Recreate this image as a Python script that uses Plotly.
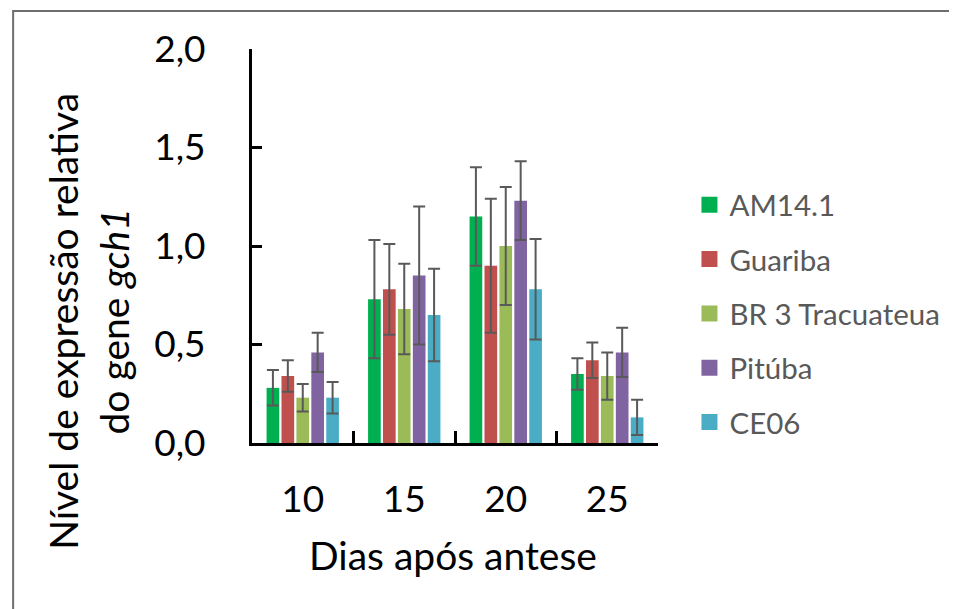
import plotly.graph_objects as go

days = ["10", "15", "20", "25"]
series_names = ["AM14.1", "Guariba", "BR 3 Tracuateua", "Pitúba", "CE06"]
colors = ["#00B050", "#C0504D", "#9BBB59", "#8064A2", "#4BACC6"]

am14 = [0.28, 0.73, 1.15, 0.35]
guariba = [0.34, 0.78, 0.90, 0.42]
br3 = [0.23, 0.68, 1.00, 0.34]
pituba = [0.46, 0.85, 1.23, 0.46]
ce06 = [0.23, 0.65, 0.78, 0.13]

am14_err = [0.09, 0.30, 0.25, 0.08]
guariba_err = [0.08, 0.23, 0.34, 0.09]
br3_err = [0.07, 0.23, 0.30, 0.12]
pituba_err = [0.10, 0.35, 0.20, 0.125]
ce06_err = [0.08, 0.235, 0.255, 0.09]

values = [am14, guariba, br3, pituba, ce06]
errors = [am14_err, guariba_err, br3_err, pituba_err, ce06_err]

FONT = "Lato"
OFF = 8  # page body margin
W, H = 957 - OFF, 609 - OFF
# plot area in screen pixels
SX0, SX1, SY0, SY1 = 252, 665, 49, 443
L = SX0 - OFF
R = W - (SX1 - OFF)
T = SY0 - OFF
B = H - (SY1 - OFF)
pw, ph = W - L - R, H - T - B


def px_x(p):
    return (p - OFF - L) / pw


def px_y(p):
    return (H - B - (p - OFF)) / ph


fig = go.Figure()
for name, col, v, e in zip(series_names, colors, values, errors):
    fig.add_trace(go.Bar(
        x=days, y=v, name=name, marker=dict(color=col, line=dict(width=0)),
        error_y=dict(type="data", array=e, visible=True, color="#595959",
                     thickness=2, width=6),
        showlegend=False,
    ))
for name, col in zip(series_names, colors):
    fig.add_trace(go.Scatter(
        x=[None], y=[None], mode="markers", name=name, legendgroup=name,
        marker=dict(symbol="square", size=18, color=col),
    ))

fig.update_layout(
    width=W, height=H,
    margin=dict(l=L, r=R, t=T, b=B, pad=0),
    paper_bgcolor="white", plot_bgcolor="white",
    barmode="group", bargap=0.265, bargroupgap=0.15,
    separators=", ",
    font=dict(family=FONT, color="black"),
    xaxis=dict(
        type="category", showline=True, linecolor="black", linewidth=3,
        ticks="inside", tickson="boundaries", ticklen=12, tickwidth=3,
        tickcolor="black", tickfont=dict(size=37, family=FONT),
        ticklabelstandoff=22, showgrid=False, zeroline=False,
    ),
    yaxis=dict(
        range=[0, 2], tickvals=[0, 0.5, 1.0, 1.5, 2.0], tickformat=".1f",
        showline=True, linecolor="black", linewidth=3,
        ticks="inside", ticklen=10, tickwidth=3, tickcolor="black",
        tickfont=dict(size=37, family=FONT), ticklabelstandoff=36,
        showgrid=False, zeroline=False,
    ),
    legend=dict(
        x=px_x(697), xanchor="left", y=px_y(179), yanchor="top",
        font=dict(size=29.5, family=FONT, color="#595959"),
        tracegroupgap=13, bgcolor="rgba(0,0,0,0)",
    ),
    annotations=[
        dict(text="Nível de expressão relativa<br>do gene <i>gch1</i>",
             textangle=-90, xref="paper", yref="paper",
             x=px_x(85), y=px_y(321), xanchor="center", yanchor="middle",
             showarrow=False, font=dict(size=39, family=FONT, color="black")),
        dict(text="Dias após antese", xref="paper", yref="paper",
             x=px_x(456), y=px_y(555), xanchor="center", yanchor="middle",
             showarrow=False, font=dict(size=39, family=FONT, color="black")),
    ],
    shapes=[
        dict(type="rect", xref="paper", yref="paper",
             x0=px_x(9), x1=px_x(1000), y0=px_y(700), y1=px_y(11),
             line=dict(color="#6e6e6e", width=2), fillcolor="rgba(0,0,0,0)"),
    ],
)

fig.write_html("out.html")
